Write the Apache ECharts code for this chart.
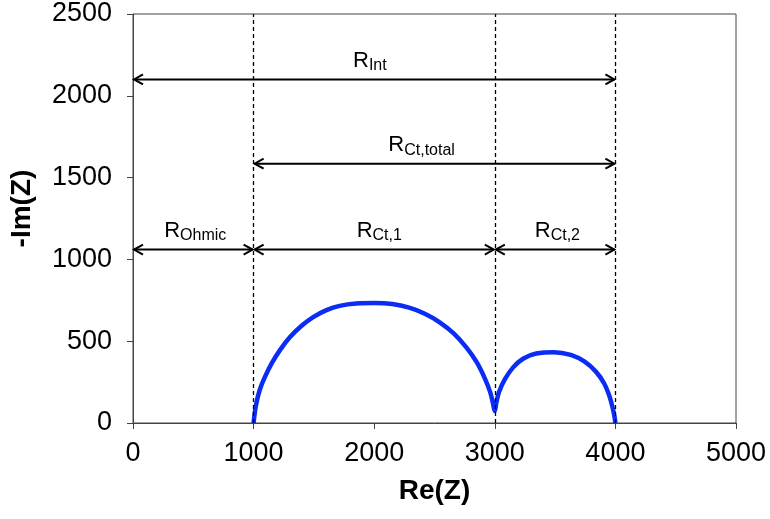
<!DOCTYPE html>
<html>
<head>
<meta charset="utf-8">
<script src="https://cdn.jsdelivr.net/npm/echarts@6/dist/echarts.min.js"></script>
<style>
  html, body { margin: 0; padding: 0; background: #fff; }
  #chart { width: 770px; height: 519px; }
</style>
</head>
<body>
<div id="chart"></div>
<script>
// Nyquist curve: [Re(Z), -Im(Z)]
var curve = [
  [1000, 0], [1006, 40], [1020, 110], [1050, 200], [1096, 285], [1151, 366],
  [1220, 447], [1302, 525], [1398, 594], [1494, 647], [1604, 690], [1713, 716],
  [1850, 730], [2000, 733], [2150, 727], [2290, 705], [2420, 668], [2540, 617],
  [2659, 548], [2769, 458], [2851, 370], [2919, 270], [2961, 190], [2985, 120],
  [3000, 74], [3012, 120], [3035, 190], [3084, 268], [3152, 340], [3234, 393],
  [3344, 425], [3490, 433], [3630, 416], [3742, 376], [3838, 314], [3906, 243],
  [3950, 165], [3978, 90], [3993, 35], [4000, 0]
];

// dashed vertical guides
var guides = [1000, 3000, 4000];

// double arrows: start, end, level, subscript, label centre
var arrowStart = [0, 1000, 0, 1000, 3000];
var arrowEnd = [4000, 4000, 1000, 3000, 4000];
var arrowLevel = [2100, 1585, 1060, 1060, 1060];
var arrowSub = ["Int", "Ct,total", "Ohmic", "Ct,1", "Ct,2"];
var labelX = [1964, 2393, 516, 2042, 3519];

var xTicks = [0, 5000, 1000];
var yTicks = [0, 2500, 500];

var FONT = "'Liberation Sans', Arial, Helvetica, sans-serif";

var arrowData = [];
for (var i = 0; i < arrowStart.length; i++) {
  arrowData.push([arrowStart[i], arrowEnd[i], arrowLevel[i], labelX[i], arrowSub[i]]);
}

var myChart = echarts.init(document.getElementById("chart"));

var option = {
  animation: false,
  grid: {
    left: 130,
    right: 34,
    top: 14,
    bottom: 96,
    show: true,
    borderColor: "#444",
    borderWidth: 1
  },
  xAxis: {
    type: "value",
    min: xTicks[0],
    max: xTicks[1],
    interval: xTicks[2],
    name: "Re(Z)",
    nameLocation: "middle",
    nameGap: 54,
    nameTextStyle: { fontFamily: FONT, fontSize: 28, fontWeight: "bold", color: "#000" },
    axisLine: { lineStyle: { color: "#444", width: 1 } },
    axisTick: { show: true, inside: false, length: 6, lineStyle: { color: "#444" } },
    axisLabel: { margin: 17, fontFamily: FONT, fontSize: 27, color: "#000", formatter: function (v) { return String(v); } },
    splitLine: { show: false }
  },
  yAxis: {
    type: "value",
    min: yTicks[0],
    max: yTicks[1],
    interval: yTicks[2],
    name: "-Im(Z)",
    nameLocation: "middle",
    nameRotate: 90,
    nameGap: 97,
    nameTextStyle: { fontFamily: FONT, fontSize: 28, fontWeight: "bold", color: "#000", padding: [0, 0, 0, 20] },
    axisLine: { show: true, lineStyle: { color: "#444", width: 1 } },
    axisTick: { show: true, inside: false, length: 6, lineStyle: { color: "#444" } },
    axisLabel: { margin: 21, fontFamily: FONT, fontSize: 27, color: "#000", formatter: function (v) { return String(v); } },
    splitLine: { show: false }
  },
  series: [
    {
      type: "line",
      data: curve,
      showSymbol: false,
      smooth: 0.4,
      lineStyle: { color: "#0a2cf5", width: 4.5 },
      markLine: {
        silent: true,
        symbol: ["none", "none"],
        label: { show: false },
        lineStyle: { color: "#000", width: 1.3, type: [4, 3] },
        data: guides.map(function (g) { return { xAxis: g }; })
      },
      z: 3
    },
    {
      type: "custom",
      coordinateSystem: "cartesian2d",
      data: arrowData,
      encode: { x: [0, 1], y: 2 },
      z: 4,
      renderItem: function (params, api) {
        var p1 = api.coord([api.value(0), api.value(2)]);
        var p2 = api.coord([api.value(1), api.value(2)]);
        var pl = api.coord([api.value(3), api.value(2)]);
        var sub = arrowData[params.dataIndex][4];
        var head = 10, half = 5;
        var stroke = { stroke: "#000", lineWidth: 2, fill: null };
        return {
          type: "group",
          children: [
            { type: "line", shape: { x1: p1[0] + 1, y1: p1[1], x2: p2[0] - 1, y2: p2[1] }, style: stroke },
            { type: "polyline", shape: { points: [[p1[0] + head, p1[1] - half], [p1[0] + 1, p1[1]], [p1[0] + head, p1[1] + half]] }, style: stroke },
            { type: "polyline", shape: { points: [[p2[0] - head, p2[1] - half], [p2[0] - 1, p2[1]], [p2[0] - head, p2[1] + half]] }, style: stroke },
            {
              type: "text",
              x: pl[0],
              y: pl[1] - 19,
              style: {
                text: "{r|R}{s|" + sub + "}",
                align: "center",
                verticalAlign: "middle",
                rich: {
                  r: { fontFamily: FONT, fontSize: 22, lineHeight: 24, fill: "#000", verticalAlign: "middle" },
                  s: { fontFamily: FONT, fontSize: 16, lineHeight: 16, fill: "#000", padding: [11, 0, 0, 0], verticalAlign: "middle" }
                }
              }
            }
          ]
        };
      }
    }
  ]
};

myChart.setOption(option);
</script>
</body>
</html>
